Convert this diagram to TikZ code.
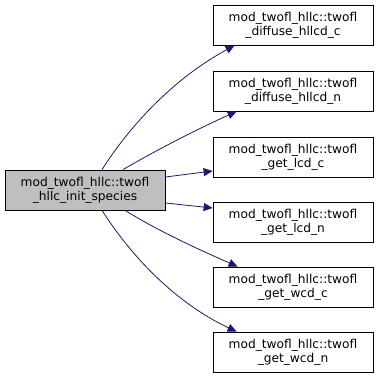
\documentclass[tikz,border=0pt]{standalone}
\usepackage{fontspec}
\setmainfont{DejaVu Sans}
\usetikzlibrary{arrows.meta}
\definecolor{edgec}{HTML}{191970}
\begin{document}
\begin{tikzpicture}[x=1pt,y=-1pt,
  fn/.style={draw=black, line width=0.8pt, fill=white, minimum width=160pt, minimum height=40pt, inner sep=0pt, align=center, font=\fontsize{12.2}{14}\selectfont},
  cur/.style={fn, fill=black!25},
  edge/.style={draw=edgec, line width=0.8pt, -{Triangle[length=9pt,width=8pt]}}]
\useasboundingbox (0,0) rectangle (379,379);
\node[cur] (s) at (85,190) {mod\_twofl\_hllc::twofl\\\_hllc\_init\_species};
\node[fn] (a) at (293,25) {mod\_twofl\_hllc::twofl\\\_diffuse\_hllcd\_c};
\node[fn] (b) at (293,91) {mod\_twofl\_hllc::twofl\\\_diffuse\_hllcd\_n};
\node[fn] (c) at (293,157) {mod\_twofl\_hllc::twofl\\\_get\_lcd\_c};
\node[fn] (d) at (293,222) {mod\_twofl\_hllc::twofl\\\_get\_lcd\_n};
\node[fn] (e) at (293,287) {mod\_twofl\_hllc::twofl\\\_get\_wcd\_c};
\node[fn] (f) at (293,352) {mod\_twofl\_hllc::twofl\\\_get\_wcd\_n};
\draw[edge] ([xshift=17pt]s.north) .. controls (135,118) and (180,75) .. ([xshift=22pt]a.south west);
\draw[edge] ([xshift=38pt]s.north) .. controls (160,148) and (200,128) .. ([xshift=24pt]b.south west);
\draw[edge] ([yshift=13pt]s.east) -- ([yshift=-14pt]c.west);
\draw[edge] ([yshift=-13pt]s.east) -- ([yshift=14pt]d.west);
\draw[edge] ([xshift=40pt]s.south) .. controls (160,232) and (200,250) .. ([xshift=25pt]e.north west);
\draw[edge] ([xshift=17pt]s.south) .. controls (135,262) and (180,305) .. ([xshift=24pt]f.north west);
\end{tikzpicture}
\end{document}
